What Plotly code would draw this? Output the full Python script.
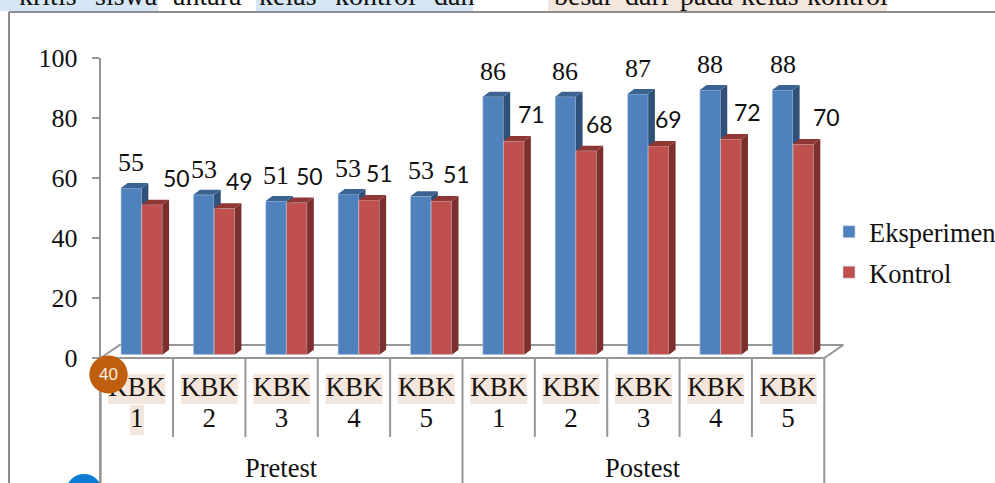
import plotly.graph_objects as go

W, H = 995, 483

# ---- data ----
kbk_numbers = ["1", "2", "3", "4", "5", "1", "2", "3", "4", "5"]
groups = ["Pretest", "Postest"]
series_names = ["Eksperimen", "Kontrol"]
eksperimen_heights = [55.6, 53.3, 51.2, 53.6, 52.8, 86.0, 86.0, 86.9, 88.2, 88.2]
kontrol_heights = [50.0, 48.8, 50.7, 51.6, 51.2, 71.2, 68.0, 69.6, 71.9, 70.2]
eksperimen_labels = ["55", "53", "51", "53", "53", "86", "86", "87", "88", "88"]
kontrol_labels = ["50", "49", "50", "51", "51", "71", "68", "69", "72", "70"]
yticks = [0, 20, 40, 60, 80, 100]

# ---- style ----
SERIF = "Liberation Serif"
SANS = "Lato"
GRAY = "#969696"
BLUE, BLUE_SIDE, BLUE_TOP = "#4F81BD", "#2F5078", "#3A6391"
RED, RED_SIDE, RED_TOP = "#C0504D", "#7D2F2E", "#8F3735"
PEACH, PALE_BLUE = "#F3E7DD", "#D6E6F4"
kontrol_label_shift = [24, 15, 13, 10, 15, 18, 13, 10, 17, 23]

AX_L, AX_R = 100.7, 824.3
PX_PER_CAT = (AX_R - AX_L) / 10
BAR_W = 20.7 / PX_PER_CAT
DEPTH_X = 6.7 / PX_PER_CAT
DEPTH_Y = 5 / 3
FLOOR_X = 19 / PX_PER_CAT
FLOOR_Y = 13 / 3
SHIFT_X = 4.8
Y_BOTTOM = -(H - 358) / 3


def fx(px):
    return px / W


def fy(px):
    return 1 - px / H


centers = [i + 0.5 for i in range(10)]


def faces(values, left):
    side_x, side_y, top_x, top_y = [], [], [], []
    for c, v in zip(centers, values):
        x0 = c + left
        x1 = x0 + BAR_W
        side_x += [x1, x1 + DEPTH_X, x1 + DEPTH_X, x1, x1, None]
        side_y += [0, DEPTH_Y, v + DEPTH_Y, v, 0, None]
        top_x += [x0, x0 + DEPTH_X, x1 + DEPTH_X, x1, x0, None]
        top_y += [v, v + DEPTH_Y, v + DEPTH_Y, v, v, None]
    return side_x, side_y, top_x, top_y


def add_series(fig, name, values, left, front, side, top, ax):
    sx, sy, tx, ty = faces(values, left)
    fig.add_trace(go.Bar(x=centers, y=values, width=BAR_W, offset=left, name=name,
                         marker=dict(color=front, line=dict(color="#C9D6E6", width=0.6)),
                         xaxis="x" + ax, yaxis="y" + ax, legendgroup=name, hoverinfo="skip"))
    for xs, ys, col in ((sx, sy, side), (tx, ty, top)):
        fig.add_trace(go.Scatter(x=xs, y=ys, mode="lines", fill="toself", fillcolor=col,
                                 line=dict(width=0), showlegend=False, hoverinfo="skip",
                                 xaxis="x" + ax, yaxis="y" + ax))


fig = go.Figure()

# floor outline and category text on the main axes
fig.add_trace(go.Scatter(
    x=[0, FLOOR_X, 10 + FLOOR_X, 10, 0],
    y=[0, FLOOR_Y, FLOOR_Y, 0, 0],
    mode="lines", line=dict(color=GRAY, width=2), showlegend=False,
    hoverinfo="skip", cliponaxis=False))
fig.add_trace(go.Scatter(
    x=centers, y=[-10.33] * 10, text=["KBK"] * 10, mode="text", cliponaxis=False,
    textfont=dict(family=SERIF, size=27, color="#1A1410"), showlegend=False, hoverinfo="skip"))
fig.add_trace(go.Scatter(
    x=centers, y=[-20.67] * 10, text=kbk_numbers, mode="text", cliponaxis=False,
    textfont=dict(family=SERIF, size=27, color="#111111"), showlegend=False, hoverinfo="skip"))

add_series(fig, series_names[0], eksperimen_heights, -BAR_W, BLUE, BLUE_SIDE, BLUE_TOP, "2")
add_series(fig, series_names[1], kontrol_heights, 0, RED, RED_SIDE, RED_TOP, "3")

shapes = []
# frame
shapes.append(dict(type="line", xref="paper", yref="paper", x0=fx(9), x1=1, y0=fy(12), y1=fy(12),
                   line=dict(color="#8C8C8C", width=2), layer="below"))
shapes.append(dict(type="line", xref="paper", yref="paper", x0=fx(9), x1=fx(9), y0=fy(12), y1=0,
                   line=dict(color="#8C8C8C", width=2), layer="below"))
# strip of highlighted text above the chart
for a, b, col in ((0, 158, PALE_BLUE), (256, 473, PALE_BLUE), (548, 887, PEACH)):
    shapes.append(dict(type="rect", xref="paper", yref="paper", x0=fx(a), x1=fx(b), y0=fy(11), y1=1,
                       fillcolor=col, line=dict(width=0), layer="below"))
# category dividers
for i in range(11):
    low = Y_BOTTOM if i in (0, 5, 10) else -26.3
    shapes.append(dict(type="line", xref="x", yref="y", x0=i, x1=i, y0=0, y1=low,
                       line=dict(color=GRAY, width=2), layer="below"))
# KBK highlights
for c in centers:
    shapes.append(dict(type="rect", xref="x", yref="y", x0=c - 0.394, x1=c + 0.394, y0=-5.33, y1=-15.33,
                       fillcolor=PEACH, line=dict(width=0), layer="below"))
shapes.append(dict(type="rect", xref="x", yref="y", x0=centers[0] - 0.097, x1=centers[0] + 0.097,
                   y0=-15.67, y1=-25.67, fillcolor=PEACH, line=dict(width=0), layer="below"))
# page badges
shapes.append(dict(type="circle", xref="paper", yref="paper", x0=fx(89.3), x1=fx(127.7),
                   y0=fy(393.5), y1=fy(355.5), fillcolor="#BF5F0D", line=dict(width=0), layer="above"))
shapes.append(dict(type="circle", xref="paper", yref="paper", x0=fx(66), x1=fx(102),
                   y0=fy(510), y1=fy(474), fillcolor="#0B7BD3", line=dict(width=0), layer="above"))

ann = []
for c, h, t in zip(centers, eksperimen_heights, eksperimen_labels):
    ann.append(dict(x=c - BAR_W / 2, y=h, xref="x2", yref="y2", text=t, showarrow=False, yshift=25.5,
                    font=dict(family=SERIF, size=26, color="#111111")))
for c, h, t, s in zip(centers, kontrol_heights, kontrol_labels, kontrol_label_shift):
    ann.append(dict(x=c + BAR_W / 2, y=h, xref="x3", yref="y3", text=t, showarrow=False, yshift=27, xshift=s,
                    font=dict(family=SANS, size=23, color="#111111")))
for g, x in zip(groups, (2.5, 7.5)):
    ann.append(dict(x=x, y=-36.7, xref="x", yref="y", text=g, showarrow=False,
                    font=dict(family=SERIF, size=26.5, color="#111111")))
ann.append(dict(x=fx(108.5), y=fy(374.5), xref="paper", yref="paper", xanchor="center", yanchor="middle",
                text="40", showarrow=False,
                font=dict(family="Liberation Sans", size=17, color="#FBEFE4")))
top_words = [("kritis", 17), ("siswa", 93), ("antara", 171), ("kelas", 257), ("kontrol", 333), ("dan", 432),
             ("besar", 552), ("dari", 623), ("pada", 678), ("kelas", 739), ("kontrol", 805)]
for word, px in top_words:
    ann.append(dict(x=fx(px), y=fy(13), xref="paper", yref="paper", xanchor="left", yanchor="bottom",
                    text=word, showarrow=False, font=dict(family=SERIF, size=28, color="#111111")))

hidden = dict(visible=False, range=[0, 10], fixedrange=True)
hidden_y = dict(visible=False, range=[0, 100], fixedrange=True)
x_dom = [fx(AX_L + SHIFT_X), fx(AX_R + SHIFT_X)]
y_dom = [fy(354.7), fy(54.7)]

fig.update_layout(
    width=W, height=H, autosize=False,
    margin=dict(l=0, r=0, t=0, b=0, autoexpand=False),
    paper_bgcolor="white", plot_bgcolor="rgba(0,0,0,0)",
    shapes=shapes, annotations=ann,
    barmode="overlay",
    font=dict(family=SERIF, color="#111111"),
    xaxis=dict(domain=[fx(AX_L), fx(AX_R + PX_PER_CAT)], range=[0, 11], showticklabels=False, ticks="",
               showgrid=False, zeroline=False, showline=False, fixedrange=True, automargin=False),
    yaxis=dict(domain=[0, fy(58)], range=[Y_BOTTOM, 100], tickvals=yticks, ticks="outside", ticklen=7,
               tickwidth=2, tickcolor=GRAY, showline=True, linecolor=GRAY, linewidth=2, showgrid=False,
               zeroline=False, ticklabelstandoff=9, tickfont=dict(family=SERIF, size=26, color="#111111"),
               fixedrange=True, automargin=False),
    xaxis2=dict(domain=x_dom, anchor="y2", **hidden),
    yaxis2=dict(domain=y_dom, anchor="x2", **hidden_y),
    xaxis3=dict(domain=x_dom, anchor="y3", **hidden),
    yaxis3=dict(domain=y_dom, anchor="x3", **hidden_y),
    legend=dict(x=fx(829), y=fy(208), xanchor="left", yanchor="top", tracegroupgap=3,
                bgcolor="rgba(0,0,0,0)", itemclick=False, itemdoubleclick=False,
                font=dict(family=SERIF, size=26.5, color="#111111"), itemwidth=30),
    showlegend=True,
)

fig.write_html("out.html", config=dict(displayModeBar=False),
               post_script="document.body.style.margin='0';document.body.style.overflow='hidden';")
